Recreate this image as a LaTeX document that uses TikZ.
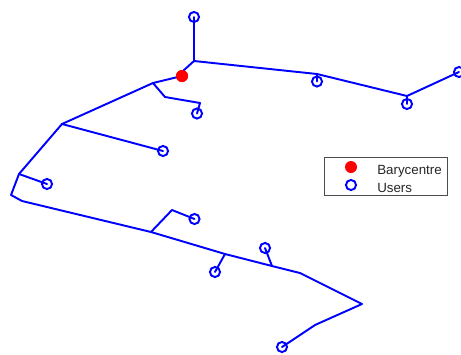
\documentclass[tikz,border=0pt]{standalone}
\usepackage{fontspec}
\setmainfont{Liberation Sans}
\definecolor{mblue}{RGB}{0,0,255}
\tikzset{
  x=0.75pt,y=-0.75pt,
  link/.style={draw=mblue,line width=1.45pt,line join=round,line cap=round},
  userdot/.style={circle,draw=mblue,line width=1.45pt,minimum size=7.6pt,inner sep=0pt},
  bary/.style={circle,fill=red,minimum size=9pt,inner sep=0pt},
  legendbox/.style={draw=black!70,line width=0.6pt,fill=white,minimum width=92.25pt,minimum height=28.5pt,inner sep=0pt},
  legendtext/.style={anchor=west,inner sep=0pt,font=\fontsize{10pt}{11pt}\selectfont,text=black!85}
}
\begin{document}
\begin{tikzpicture}
\useasboundingbox (0,0) rectangle (461,354);
\clip (0,0) rectangle (461,354);
% junctions
\foreach \n/\x/\y in {ja/194/61,jb/317/74,jc/407/96,jd/153/83,je/165/97,jf/200/103,jg/62/124,jh/19/174,ji/11/195,jj/22/201,jk/151/232,jl/172/210,jm/225/254,jn/272/266,jo/300/273,jp/362/304,jq/315/325,jr/183/71}
  \coordinate (\n) at (\x,\y);
% users
\node[userdot] (u1) at (194,17) {};
\node[userdot] (u2) at (459,72) {};
\node[userdot] (u3) at (317,81.5) {};
\node[userdot] (u4) at (407,104) {};
\node[userdot] (u5) at (197,113.5) {};
\node[userdot] (u6) at (163,151) {};
\node[userdot] (u7) at (47,184) {};
\node[userdot] (u8) at (194.5,219) {};
\node[userdot] (u9) at (265,248) {};
\node[userdot] (u10) at (215,272) {};
\node[userdot] (u11) at (282,347) {};
\node[bary] (b) at (182,76) {};
% network
\draw[link] (u1.center) -- (ja) -- (jr);
\draw[link] (ja) -- (jb) -- (jc) -- (u2.center);
\draw[link] (jb) -- (u3.center);
\draw[link] (jc) -- (u4.center);
\draw[link] (b.center) -- (jd) -- (jg) -- (jh) -- (ji) -- (jj) -- (jk) -- (jm) -- (jn) -- (jo) -- (jp) -- (jq) -- (u11.center);
\draw[link] (jd) -- (je) -- (jf) -- (u5.center);
\draw[link] (jg) -- (u6.center);
\draw[link] (jh) -- (u7.center);
\draw[link] (jk) -- (jl) -- (u8.center);
\draw[link] (jm) -- (u10.center);
\draw[link] (jn) -- (u9.center);
\node[bary] at (b) {};
% legend
\node[legendbox] (lg) at (385.5,176) {};
\node[bary] (lb) at (351,167) {};
\node[userdot] (lu) at (351,185) {};
\node[legendtext] (lt1) at (377,171) {Barycentre};
\node[legendtext] (lt2) at (377,188) {Users};
\end{tikzpicture}
\end{document}
